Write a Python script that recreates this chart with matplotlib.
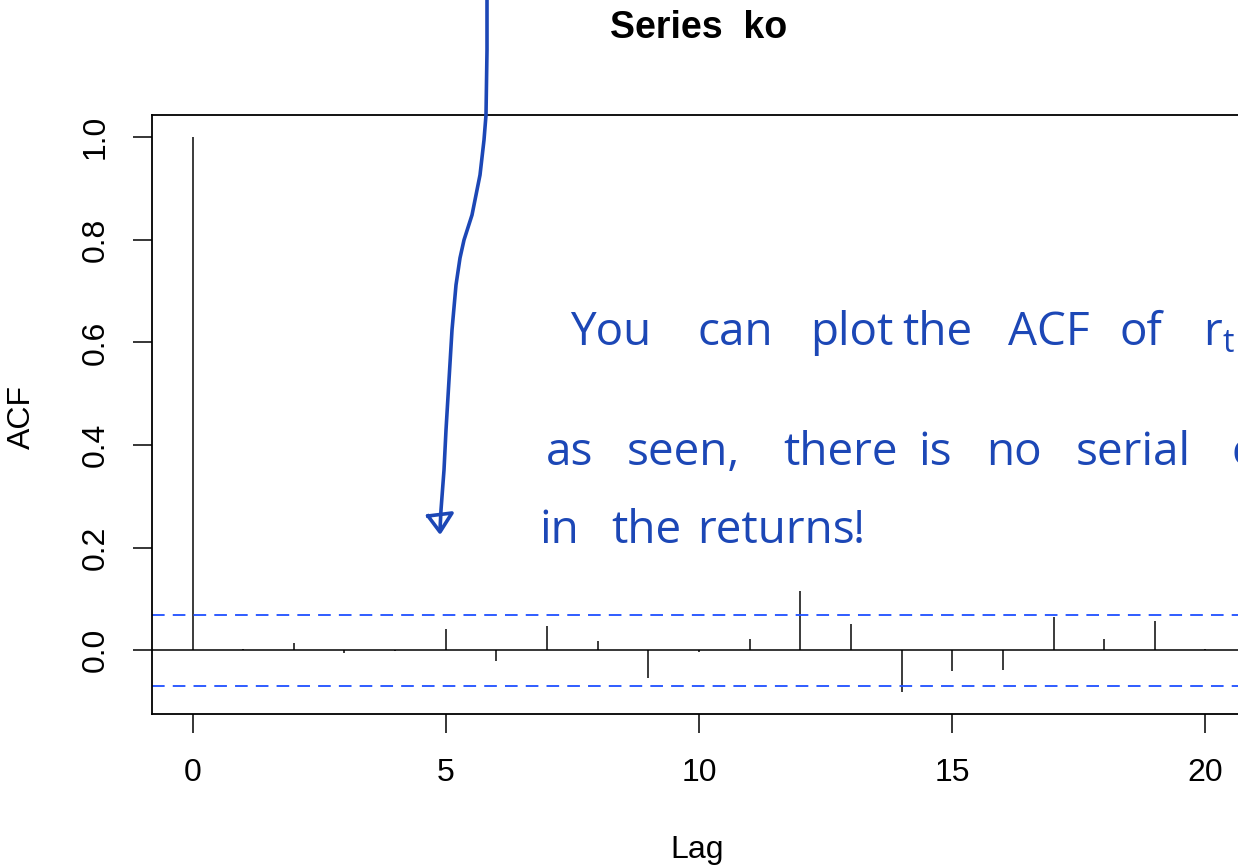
import matplotlib
matplotlib.use("Agg")
import matplotlib.pyplot as plt
from matplotlib.lines import Line2D
import numpy as np

# Sample autocorrelation of the ko return series, lags 0..20
lags = list(range(0, 21))
acf_values = [1.000, 0.002, 0.014, -0.005, -0.002, 0.041, -0.021, 0.047, 0.019,
              -0.054, -0.004, 0.021, 0.115, 0.051, -0.081, -0.041, -0.038,
              0.065, 0.021, 0.057, 0.002]
conf_bound = 0.069
x_ticks = [0, 5, 10, 15, 20]
y_ticks = [0.0, 0.2, 0.4, 0.6, 0.8, 1.0]
y_tick_labels = ["0.0", "0.2", "0.4", "0.6", "0.8", "1.0"]

# Handwritten note, one entry per word: (text, x px, baseline y px)
note_words = [
    ("You", 570, 345), ("can", 697, 345), ("plot", 810, 345), ("the", 902, 345),
    ("ACF", 1008, 345), ("of", 1119, 345), (r"$\mathregular{r_t}$", 1203, 345),
    ("as", 546, 465), ("seen,", 627, 465), ("there", 783, 465), ("is", 918, 465),
    ("no", 986, 465), ("serial", 1076, 465), ("correlation", 1232, 465),
    ("in", 539, 543), ("the", 611, 543), ("returns", 697, 543), ("!", 853, 543),
]

W, H = 1238, 865
plt.rcParams["font.family"] = ["Liberation Sans", "DejaVu Sans"]
fig = plt.figure(figsize=(W / 100, H / 100), dpi=100)


def fx(px):
    return px / W


def fy(py):
    return 1 - py / H


# Plot region extends past the right edge of the canvas
left, right, top, bottom = 152, 1246, 115, 714
ax = fig.add_axes([fx(left), fy(bottom), fx(right - left), (bottom - top) / H])

ax.vlines(lags, 0, acf_values, color="#1a1a1a", lw=1.2)
ax.axhline(0, color="black", lw=1.1)
for b in (conf_bound, -conf_bound):
    ax.axhline(b, color="#1f4fff", lw=1.3, linestyle=(0, (7, 4.5)))


def padded(lo, hi, frac=0.04):
    d = (hi - lo) * frac
    return lo - d, hi + d


ax.set_xlim(*padded(min(lags), max(lags)))
ylo = min(min(acf_values), -conf_bound)
yhi = max(max(acf_values), conf_bound)
ax.set_ylim(*padded(ylo, yhi))

ax.set_xticks(x_ticks)
ax.set_xticklabels([str(t) for t in x_ticks])
ax.set_yticks(y_ticks)
ax.set_yticklabels(y_tick_labels, rotation=90, va="center")
ax.tick_params(axis="both", direction="out", length=13.5, width=1.1,
               labelsize=23, colors="black")
ax.tick_params(axis="x", pad=18)
ax.tick_params(axis="y", pad=16)
for s in ax.spines.values():
    s.set_linewidth(1.3)

fig.text(fx(699), fy(28), "Series  ko", ha="center", va="center",
         fontsize=27, fontweight="bold")
fig.text(fx(697), fy(850), "Lag", ha="center", va="center", fontsize=23)
fig.text(fx(22), fy(417), "ACF", ha="center", va="center", fontsize=23,
         rotation=90)

# Hand-drawn arrow pointing down at the small lags
pen = "#1c47b6"
path_x = [487, 487, 486, 484, 480, 472, 464, 460, 456, 452, 449, 446, 444, 441, 440]
path_y = [0, 50, 115, 140, 175, 215, 240, 258, 285, 330, 380, 430, 470, 510, 530]
fig.add_artist(Line2D([fx(v) for v in path_x], [fy(v) for v in path_y],
                      color=pen, lw=2.6, solid_capstyle="round",
                      solid_joinstyle="round"))
head_x = [428, 452, 440, 428]
head_y = [516, 513, 532, 516]
fig.add_artist(Line2D([fx(v) for v in head_x], [fy(v) for v in head_y],
                      color=pen, lw=2.6, solid_joinstyle="round"))

for word, px, py in note_words:
    fig.text(fx(px), fy(py), word, ha="left", va="baseline", color=pen,
             fontsize=33, family=["Open Sans", "DejaVu Sans"])

fig.savefig("out.png", dpi=100)
